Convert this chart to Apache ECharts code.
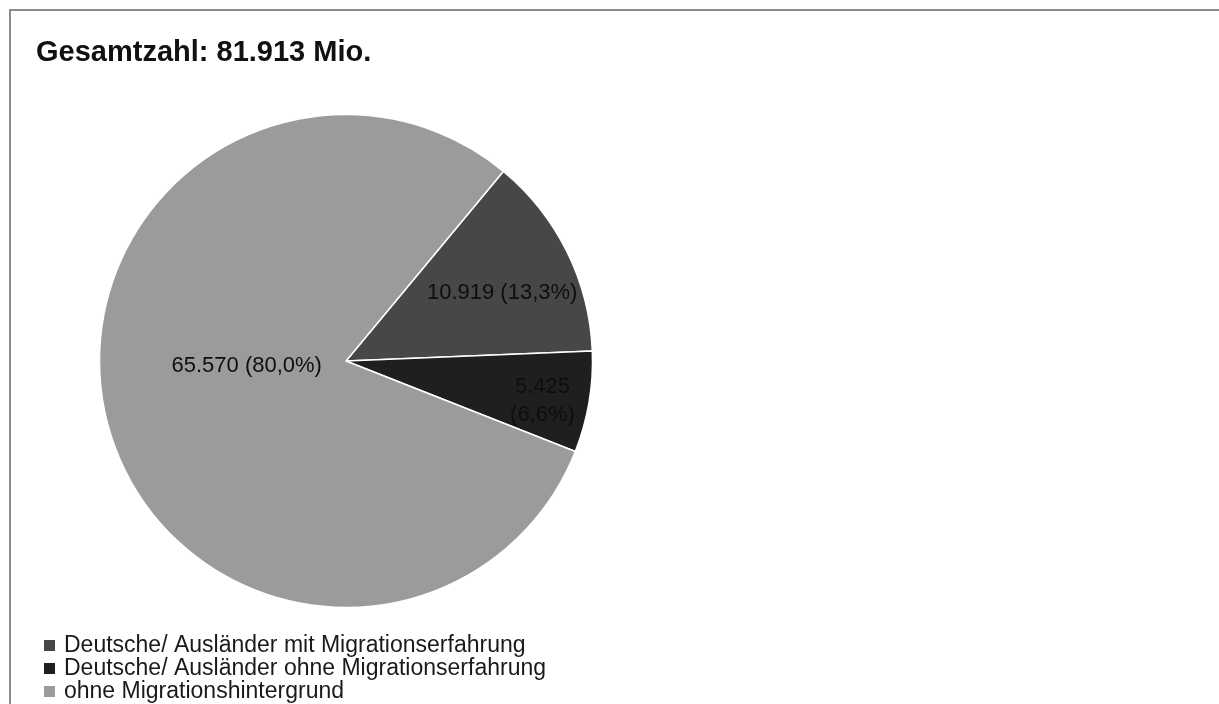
<!DOCTYPE html>
<html>
<head>
<meta charset="utf-8">
<script src="https://cdn.jsdelivr.net/npm/echarts@6/dist/echarts.min.js"></script>
<style>
html,body{margin:0;padding:0;background:#fff;}
#chart{width:1219px;height:704px;}
</style>
</head>
<body>
<div id="chart"></div>
<script>
const titleText = 'Gesamtzahl: 81.913 Mio.';
const categories = [
  'Deutsche/ Ausländer mit Migrationserfahrung',
  'Deutsche/ Ausländer ohne Migrationserfahrung',
  'ohne Migrationshintergrund'
];
const values = [10919, 5425, 65570];           // in Tausend
const percents = [13.3, 6.6, 80.0];
const colors = ['#474747', '#1f1f1f', '#9b9b9b'];
const labelOffsets = [[43, -12], [72, 19], [23, -26]];
const labelBreak = [false, true, false];

function deNum(v) {
  return (v / 1000).toFixed(3);
}
function dePct(p) {
  return p.toFixed(1).replace('.', ',') + '%';
}

const FONT = '"Liberation Sans", Arial, sans-serif';

const chart = echarts.init(document.getElementById('chart'), null, {renderer: 'canvas'});

const data = categories.map((name, i) => ({
  name: name,
  value: values[i],
  itemStyle: {color: colors[i]},
  label: {
    offset: labelOffsets[i],
    formatter: deNum(values[i]) + (labelBreak[i] ? '\n' : ' ') + '(' + dePct(percents[i]) + ')'
  }
}));

chart.setOption({
  animation: false,
  backgroundColor: '#ffffff',
  graphic: [{
    type: 'rect',
    silent: true,
    shape: {x: 10, y: 10, width: 1400, height: 900},
    style: {fill: 'none', stroke: '#8c8c8c', lineWidth: 2}
  }],
  title: {
    text: titleText,
    left: 36,
    top: 38,
    padding: 0,
    textStyle: {fontFamily: FONT, fontWeight: 'bold', fontSize: 29, color: '#111111'}
  },
  legend: {
    orient: 'vertical',
    left: 42,
    top: 634,
    padding: 0,
    itemGap: 0,
    itemWidth: 13,
    itemHeight: 13,
    icon: 'rect',
    selectedMode: false,
    data: categories,
    textStyle: {
      fontFamily: FONT, fontSize: 23, color: '#1a1a1a',
      lineHeight: 22.5, padding: [0, 0, 0, 3]
    }
  },
  series: [{
    type: 'pie',
    center: [346, 361],
    radius: 246.5,
    startAngle: 50.3,
    clockwise: true,
    silent: true,
    avoidLabelOverlap: false,
    itemStyle: {borderColor: '#ffffff', borderWidth: 1.5},
    label: {
      show: true,
      position: 'inside',
      fontFamily: FONT,
      fontSize: 22,
      color: '#0e0e0e',
      lineHeight: 28,
      align: 'center'
    },
    labelLine: {show: false},
    emphasis: {disabled: true},
    data: data
  }]
});
</script>
</body>
</html>
